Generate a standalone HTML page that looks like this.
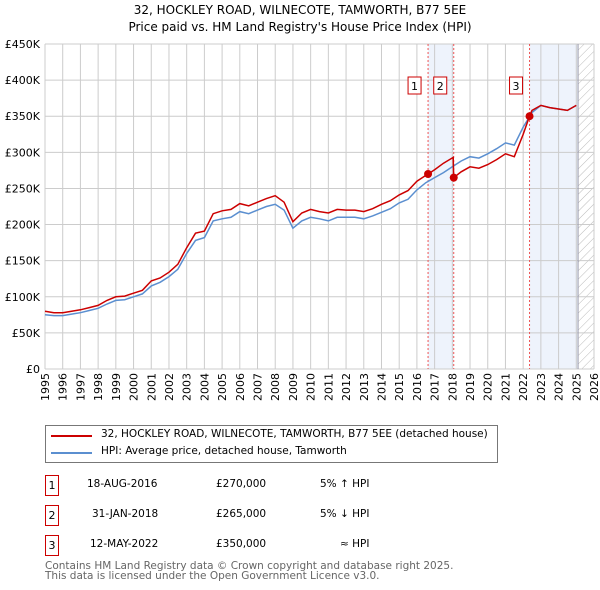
<!DOCTYPE html>
<html><head><meta charset="utf-8"><style>
body{margin:0;background:#fff;font-family:"DejaVu Sans","Liberation Sans",sans-serif;}
#wrap{position:relative;width:600px;height:590px;overflow:hidden}
.t{position:absolute;font-size:11px;color:#000;white-space:nowrap}
.box{position:absolute;border:1px solid #c00;width:12px;height:19px;font-size:11px;text-align:center;line-height:19px;background:#fff}
</style></head><body><div id="wrap">
<div class="t" style="left:0;width:600px;text-align:center;top:3px;font-size:12px">32, HOCKLEY ROAD, WILNECOTE, TAMWORTH, B77 5EE</div>
<div class="t" style="left:0;width:600px;text-align:center;top:20px;font-size:12px">Price paid vs. HM Land Registry's House Price Index (HPI)</div>
<svg id="chart" width="600" height="420" style="position:absolute;left:0;top:0;font-family:'DejaVu Sans','Liberation Sans',sans-serif">
<defs><pattern id="hatch" width="6" height="6" patternUnits="userSpaceOnUse" patternTransform="rotate(45)"><line x1="0" y1="0" x2="0" y2="6" stroke="#bbb" stroke-width="1"/></pattern></defs>
<g id="g"></g></svg>
<div style="position:absolute;left:45px;top:425px;width:451px;height:36px;border:1px solid #777">
<div style="position:absolute;left:5px;top:9px;width:41px;height:2px;background:#c00"></div>
<div class="t" style="left:55px;top:2px;font-size:10.5px">32, HOCKLEY ROAD, WILNECOTE, TAMWORTH, B77 5EE (detached house)</div>
<div style="position:absolute;left:5px;top:26px;width:41px;height:2px;background:#5b8fd0"></div>
<div class="t" style="left:55px;top:19px;font-size:10.5px">HPI: Average price, detached house, Tamworth</div>
</div>
<div>
<div class="box" style="left:45px;top:475px">1</div>
<div class="t" style="left:87px;top:478px;font-size:10.5px">18-AUG-2016</div><div class="t" style="left:216px;top:478px;font-size:10.5px">£270,000</div><div class="t" style="left:320px;top:478px;font-size:10.5px">5% ↑ HPI</div>
<div class="box" style="left:45px;top:505px">2</div>
<div class="t" style="left:92px;top:508px;font-size:10.5px">31-JAN-2018</div><div class="t" style="left:216px;top:508px;font-size:10.5px">£265,000</div><div class="t" style="left:320px;top:508px;font-size:10.5px">5% ↓ HPI</div>
<div class="box" style="left:45px;top:535px">3</div>
<div class="t" style="left:90px;top:538px;font-size:10.5px">12-MAY-2022</div><div class="t" style="left:216px;top:538px;font-size:10.5px">£350,000</div><div class="t" style="left:340px;top:538px;font-size:10.5px">≈ HPI</div>
</div>
<div class="t" style="left:45px;top:561px;font-size:10.5px;color:#666;line-height:10px">Contains HM Land Registry data © Crown copyright and database right 2025.<br>This data is licensed under the Open Government Licence v3.0.</div>
</div>
<script>
const yearTicks=[1995,1996,1997,1998,1999,2000,2001,2002,2003,2004,2005,2006,2007,2008,2009,2010,2011,2012,2013,2014,2015,2016,2017,2018,2019,2020,2021,2022,2023,2024,2025,2026];
const valueTicks=[0,50,100,150,200,250,300,350,400,450];
const hpiYears=[1995,1995.5,1996,1996.5,1997,1997.5,1998,1998.5,1999,1999.5,2000,2000.5,2001,2001.5,2002,2002.5,2003,2003.5,2004,2004.5,2005,2005.5,2006,2006.5,2007,2007.5,2008,2008.5,2009,2009.5,2010,2010.5,2011,2011.5,2012,2012.5,2013,2013.5,2014,2014.5,2015,2015.5,2016,2016.5,2017,2017.5,2018,2018.5,2019,2019.5,2020,2020.5,2021,2021.5,2022,2022.5,2023,2023.5,2024,2024.5,2025];
const hpiValues=[75,74,74,76,78,81,84,90,95,96,100,104,115,120,128,138,160,178,182,205,208,210,218,215,220,225,228,220,195,205,210,208,205,210,210,210,208,212,217,222,230,235,248,258,265,272,280,288,294,292,298,305,313,310,335,355,365,362,360,358,365];
const priceYears=[1995,1995.5,1996,1996.5,1997,1997.5,1998,1998.5,1999,1999.5,2000,2000.5,2001,2001.5,2002,2002.5,2003,2003.5,2004,2004.5,2005,2005.5,2006,2006.5,2007,2007.5,2008,2008.5,2009,2009.5,2010,2010.5,2011,2011.5,2012,2012.5,2013,2013.5,2014,2014.5,2015,2015.5,2016,2016.5,2016.63,2017,2017.5,2018.05,2018.08,2018.5,2019,2019.5,2020,2020.5,2021,2021.5,2022,2022.36,2022.5,2023,2023.5,2024,2024.5,2025];
const priceValues=[80,78,78,80,82,85,88,95,100,101,105,109,122,126,134,145,168,188,191,215,219,221,229,226,231,236,240,231,204,216,221,218,216,221,220,220,218,222,228,233,241,247,260,268,270,276,285,293,265,273,280,278,283,290,298,294,325,350,358,365,362,360,358,365];
const sales=[[2016.63,270,'1'],[2018.08,265,'2'],[2022.36,350,'3']];
const X0=45,X1=594,Y0=369,Y1=44;
const sx=y=>X0+(y-1995)/31*(X1-X0), sy=v=>Y0-v/450*(Y0-Y1);
const g=document.getElementById('g'),NS='http://www.w3.org/2000/svg';
function el(t,a,txt){const e=document.createElementNS(NS,t);for(const k in a)e.setAttribute(k,a[k]);if(txt!==undefined)e.textContent=txt;g.appendChild(e);return e;}
let r=el('rect',{x:sx(sales[0][0]),y:Y1,width:sx(sales[1][0])-sx(sales[0][0]),height:Y0-Y1,fill:'#eef3fc'});

r=el('rect',{x:sx(sales[2][0]),y:Y1,width:sx(2025.1)-sx(sales[2][0]),height:Y0-Y1,fill:'#eef3fc'});

r=el('rect',{x:sx(2025.1),y:Y1,width:X1-sx(2025.1),height:Y0-Y1,fill:'url(#hatch)'});

yearTicks.forEach(y=>{const l=el('line',{x1:sx(y),x2:sx(y),y1:Y1,y2:Y0,stroke:'#ccc'});

const t=el('text',{x:0,y:0,'font-size':11,'text-anchor':'end',transform:'translate('+(sx(y)+4)+',373) rotate(-90)'},y);
});
valueTicks.forEach(v=>{const l=el('line',{x1:X0,x2:X1,y1:sy(v),y2:sy(v),stroke:'#ccc'});

const t=el('text',{x:X0-5,y:sy(v)+4,'font-size':11,'text-anchor':'end'},v==0?'£0':'£'+v+'K');
});
const bl=el('line',{x1:sx(2025.1),x2:sx(2025.1),y1:Y1,y2:Y0,stroke:'#99a'});

sales.forEach(s=>{const l=el('line',{x1:sx(s[0]),x2:sx(s[0]),y1:Y1,y2:Y0,stroke:'#e55','stroke-dasharray':'2,2'});
});
function path(xs,vs,c,n){const p=el('path',{d:xs.map((x,i)=>(i?'L':'M')+sx(x).toFixed(1)+','+sy(vs[i]).toFixed(1)).join(''),fill:'none',stroke:c,'stroke-width':1.5});
}
path(hpiYears,hpiValues,'#5b8fd0','hpi-line');
path(priceYears,priceValues,'#cc0000','price-line');
sales.forEach(s=>{const c=el('circle',{cx:sx(s[0]),cy:sy(s[1]),r:4,fill:'#cc0000'});

const b=el('rect',{x:sx(s[0])-20,y:77,width:13,height:17,fill:'#fff',stroke:'#c00'});

const t=el('text',{x:sx(s[0])-13.5,y:90,'font-size':11,'text-anchor':'middle'},s[2]);
});
</script></body></html>
